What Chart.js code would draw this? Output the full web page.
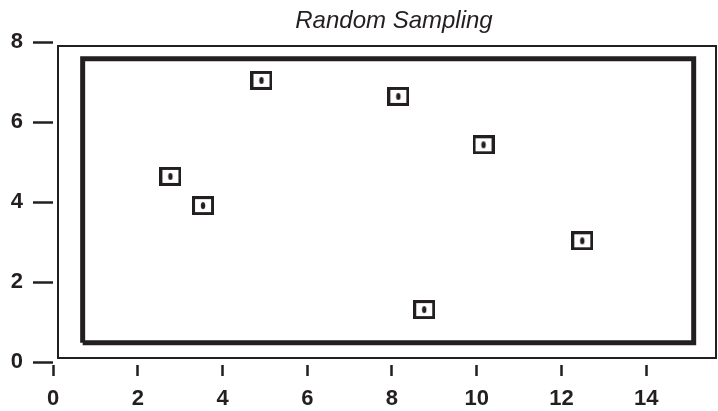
<!DOCTYPE html>
<html>
<head>
<meta charset="utf-8">
<script src="https://cdn.jsdelivr.net/npm/chart.js@4"></script>
<style>
  html, body { margin: 0; padding: 0; background: #fff; overflow: hidden; }
  #wrap { width: 718px; height: 411px; position: relative; }
  canvas { display: block; }
</style>
</head>
<body>
<div id="wrap"><canvas id="chart"></canvas></div>
<script>
// サンプル点
const sampleX = [2.77, 3.54, 4.92, 8.15, 8.76, 10.16, 12.49];
const sampleY = [4.64, 3.91, 7.04, 6.64, 1.31, 5.43, 3.03];

// 太い枠 (領域)
const boxX = [0.7, 15.12, 15.12, 0.7, 0.7];
const boxY = [0.48, 0.48, 7.58, 7.58, 0.48];

// 目盛り
const xTicks = [0, 2, 4, 6, 8, 10, 12, 14];
const yTicks = [0, 2, 4, 6, 8];

const titleText = 'Random Sampling';
const ink = '#231f20';

// 四角の中に点があるマーカー
function makeMarker() {
  const c = document.createElement('canvas');
  c.width = 22; c.height = 19;
  const g = c.getContext('2d');
  g.strokeStyle = ink;
  g.lineWidth = 3;
  g.strokeRect(1.5, 1.5, 19, 16);
  g.fillStyle = ink;
  g.beginPath();
  g.ellipse(11, 9.5, 2.2, 3.6, 0, 0, Math.PI * 2);
  g.fill();
  return c;
}

// 外枠とタイトル
const framePlugin = {
  id: 'frame',
  afterDraw(chart) {
    const ctx = chart.ctx;
    const a = chart.chartArea;
    ctx.save();
    ctx.strokeStyle = ink;
    ctx.lineWidth = 2;
    ctx.strokeRect(a.left + 5, a.top + 4, a.right - a.left - 6, a.bottom - a.top - 8);
    ctx.fillStyle = ink;
    ctx.font = 'italic 24px "Liberation Sans", Arial, sans-serif';
    ctx.textAlign = 'center';
    ctx.textBaseline = 'alphabetic';
    ctx.fillText(titleText, 394, 28);
    ctx.restore();
  }
};

const tickFont = { family: '"Liberation Sans", Arial, sans-serif', size: 22, weight: 'bold' };

new Chart(document.getElementById('chart'), {
  type: 'scatter',
  data: {
    datasets: [
      {
        data: boxX.map((x, i) => ({ x: x, y: boxY[i] })),
        showLine: true,
        borderColor: ink,
        borderWidth: 5,
        borderJoinStyle: 'miter',
        pointRadius: 0,
        fill: false
      },
      {
        data: sampleX.map((x, i) => ({ x: x, y: sampleY[i] })),
        pointStyle: makeMarker(),
        pointRadius: 10
      }
    ]
  },
  options: {
    responsive: true,
    maintainAspectRatio: false,
    animation: false,
    layout: { autoPadding: false, padding: { top: 42, right: 1, left: 0, bottom: 0 } },
    plugins: { legend: { display: false }, tooltip: { enabled: false } },
    scales: {
      x: {
        type: 'linear',
        min: 0,
        max: 15.67,
        afterFit: s => { s.height = 49; s.paddingLeft = 0; s.paddingRight = 0; },
        afterBuildTicks: s => { s.ticks = xTicks.map(v => ({ value: v })); },
        border: { display: false },
        grid: {
          drawOnChartArea: false,
          tickLength: 14,
          tickColor: ink,
          tickWidth: 2.5,
          tickBorderDash: [0, 3, 11, 100]
        },
        ticks: { color: ink, font: tickFont, padding: 10, includeBounds: false }
      },
      y: {
        type: 'linear',
        min: 0,
        max: 8,
        afterFit: s => { s.width = 53; s.paddingTop = 0; s.paddingBottom = 0; },
        afterBuildTicks: s => { s.ticks = yTicks.map(v => ({ value: v })); },
        border: { display: false },
        grid: {
          drawOnChartArea: false,
          tickLength: 20,
          tickColor: ink,
          tickWidth: 2.5
        },
        ticks: { color: ink, font: tickFont, padding: 10 }
      }
    }
  },
  plugins: [framePlugin]
});
</script>
</body>
</html>
